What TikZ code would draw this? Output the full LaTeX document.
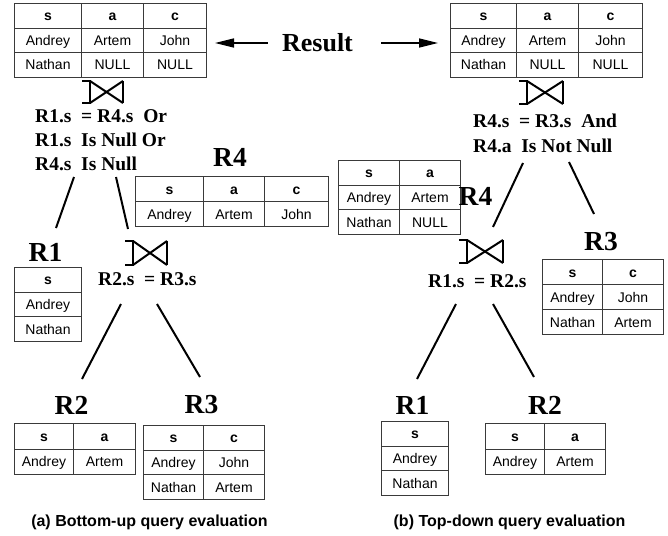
\documentclass[tikz,border=0pt]{standalone}
\usepackage{fontspec}
\setmainfont{Liberation Serif}
\setsansfont{Liberation Sans}
\usetikzlibrary{matrix,arrows.meta}

\definecolor{tabline}{HTML}{3A3A3A}

% outer-join symbol: bracket on the left, bow tie to the right
\newcommand{\joinmark}[1]{%
  \draw[joinline] ([xshift=-8pt]#1.north west) -- (#1.north west) -- (#1.south west) -- ([xshift=-8pt]#1.south west);
  \draw[joinline] (#1.north west) -- (#1.south east);
  \draw[joinline] (#1.south west) -- (#1.north east);
  \draw[joinline] (#1.north east) -- (#1.south east);}

\begin{document}
\begin{tikzpicture}[x=1pt, y=-1pt,
  tbl/.style={matrix of nodes, inner sep=0pt, outer sep=0pt, anchor=north west,
    column sep=-1pt, row sep=-1pt,
    nodes={draw=tabline, line width=1pt, inner sep=0pt, minimum height=#1,
      text height=10pt, text depth=0pt, anchor=center,
      font=\sffamily\fontsize{14}{16}\selectfont},
    row 1/.style={nodes={font=\sffamily\bfseries\fontsize{14}{16}\selectfont}}},
  cwthree/.style n args={3}{column 1/.style={nodes={minimum width=#1}},
    column 2/.style={nodes={minimum width=#2}},
    column 3/.style={nodes={minimum width=#3}}},
  cwtwo/.style n args={2}{column 1/.style={nodes={minimum width=#1}},
    column 2/.style={nodes={minimum width=#2}}},
  cwone/.style={column 1/.style={nodes={minimum width=#1}}},
  rel/.style={inner sep=0pt, font=\bfseries\fontsize{27.5}{30}\selectfont},
  cond/.style={inner sep=0pt, anchor=west, font=\bfseries\fontsize{19.5}{23}\selectfont},
  caption/.style={inner sep=0pt, font=\sffamily\bfseries\fontsize{16}{19}\selectfont},
  joinbox/.style={inner sep=0pt, outer sep=0pt, anchor=north west,
    minimum width=34pt, minimum height=23pt},
  joinline/.style={line width=2pt, line cap=butt},
  edge/.style={line width=2pt},
  arr/.style={line width=1.5pt, -{Triangle[length=19pt, width=9pt]}}
]
\useasboundingbox (0,0) rectangle (668,535);

% ---------- result tables and the label between them ----------
\matrix (resA) [tbl=24.6pt, cwthree={67pt}{62pt}{63pt}] at (14,3)
  {s & a & c\\ Andrey & Artem & John\\ Nathan & NULL & NULL\\};
\matrix (resB) [tbl=24.6pt, cwthree={66pt}{62pt}{64pt}] at (450,3)
  {s & a & c\\ Andrey & Artem & John\\ Nathan & NULL & NULL\\};

\node[inner sep=0pt, font=\bfseries\fontsize{26}{28}\selectfont] (result) at (317.5,43) {Result};
\draw[arr] ([xshift=-14pt]result.west) -- ([xshift=8pt]resA.east |- result);
\draw[arr] ([xshift=28pt]result.east) -- ([xshift=-12pt]resB.west |- result);

% ---------- (a) bottom-up evaluation ----------
\node[joinbox, minimum width=33pt, minimum height=22pt] (jA1) at (90,81) {};
\joinmark{jA1}
\node[cond] (cA1) at (35,116.5) {R1.s~ = R4.s~ Or};
\node[cond] (cA2) at (35,140) {R1.s~ Is Null Or};
\node[cond] (cA3) at (35,163.5) {R4.s~ Is Null};

\node[rel] (R4a) at (230,157) {R4};
\matrix (tR4a) [tbl=25pt, cwthree={68pt}{61pt}{64pt}] at (135,176)
  {s & a & c\\ Andrey & Artem & John\\};

\node[rel] (R1a) at (45.5,252) {R1};
\matrix (tR1a) [tbl=24.6pt, cwone=67pt] at (14,267)
  {s\\ Andrey\\ Nathan\\};

\node[joinbox, minimum width=34pt, minimum height=24pt] (jA2) at (133,241) {};
\joinmark{jA2}
\node[cond] (cA4) at (98,279) {R2.s~ = R3.s};

\node[rel] (R2a) at (71.5,405) {R2};
\matrix (tR2a) [tbl=25.5pt, cwtwo={59pt}{62pt}] at (14,423)
  {s & a\\ Andrey & Artem\\};

\node[rel] (R3a) at (201.5,405) {R3};
\matrix (tR3a) [tbl=24.6pt, cwtwo={60pt}{61pt}] at (143,425)
  {s & c\\ Andrey & John\\ Nathan & Artem\\};

\coordinate (eA1s) at (74,177);  \coordinate (eA1t) at (56,228);
\coordinate (eA2s) at (116,177); \coordinate (eA2t) at (128,229);
\coordinate (eA3s) at (121,304); \coordinate (eA3t) at (82,379);
\coordinate (eA4s) at (157,304); \coordinate (eA4t) at (200,377);
\draw[edge] (eA1s) -- (eA1t);
\draw[edge] (eA2s) -- (eA2t);
\draw[edge] (eA3s) -- (eA3t);
\draw[edge] (eA4s) -- (eA4t);

\node[caption] (capA) at (149.5,522) {(a) Bottom-up query evaluation};

% ---------- (b) top-down evaluation ----------
\node[joinbox, minimum width=36pt, minimum height=23pt] (jB1) at (527,81) {};
\joinmark{jB1}
\node[cond] (cB1) at (473,120.5) {R4.s~ = R3.s~ And};
\node[cond] (cB2) at (473,145.5) {R4.a~ Is Not Null};

\matrix (tR4b) [tbl=24.6pt, cwtwo={61pt}{61pt}] at (338,160)
  {s & a\\ Andrey & Artem\\ Nathan & NULL\\};
\node[rel] (R4b) at (475.5,196) {R4};

\node[rel] (R3b) at (601,242) {R3};
\matrix (tR3b) [tbl=25pt, cwtwo={60pt}{61pt}] at (542,259)
  {s & c\\ Andrey & John\\ Nathan & Artem\\};

\node[joinbox, minimum width=36pt, minimum height=23pt] (jB2) at (467,240) {};
\joinmark{jB2}
\node[cond] (cB3) at (428,281) {R1.s~ = R2.s};

\node[rel] (R1b) at (412.5,405) {R1};
\matrix (tR1b) [tbl=24.6pt, cwone=67pt] at (381,421)
  {s\\ Andrey\\ Nathan\\};

\node[rel] (R2b) at (545,405) {R2};
\matrix (tR2b) [tbl=25.5pt, cwtwo={59pt}{61pt}] at (485,423)
  {s & a\\ Andrey & Artem\\};

\coordinate (eB1s) at (523,163); \coordinate (eB1t) at (493,227);
\coordinate (eB2s) at (569,162); \coordinate (eB2t) at (594,214);
\coordinate (eB3s) at (456,304); \coordinate (eB3t) at (417,379);
\coordinate (eB4s) at (493,304); \coordinate (eB4t) at (534,377);
\draw[edge] (eB1s) -- (eB1t);
\draw[edge] (eB2s) -- (eB2t);
\draw[edge] (eB3s) -- (eB3t);
\draw[edge] (eB4s) -- (eB4t);

\node[caption] (capB) at (509.5,522) {(b) Top-down query evaluation};
\end{tikzpicture}
\end{document}
